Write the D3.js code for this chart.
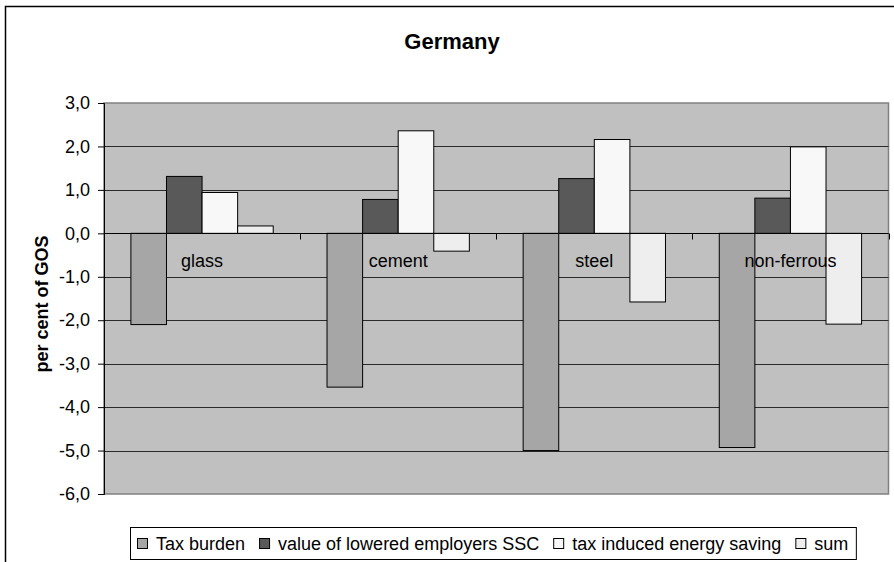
<!DOCTYPE html>
<html>
<head>
<meta charset="utf-8">
<script src="https://cdn.jsdelivr.net/npm/d3@7"></script>
<style>
  html, body { margin: 0; padding: 0; background: #ffffff; }
  svg { display: block; font-family: Arial, "Liberation Sans", sans-serif; }
</style>
</head>
<body>
<svg id="chart" width="894" height="562"></svg>
<script>
const title = "Germany";
const yAxisTitle = "per cent of GOS";
const categories = ["glass", "cement", "steel", "non-ferrous"];
const seriesNames = ["Tax burden", "value of lowered employers SSC", "tax induced energy saving", "sum"];
const seriesColors = ["#a6a6a6", "#595959", "#f8f8f8", "#eeeeee"];
const taxBurden = [-2.1, -3.54, -5.0, -4.93];
const loweredSSC = [1.31, 0.78, 1.26, 0.81];
const energySaving = [0.94, 2.36, 2.16, 1.99];
const sumValues = [0.17, -0.41, -1.58, -2.09];
const yTicks = [3, 2, 1, 0, -1, -2, -3, -4, -5, -6];

const seriesValues = [taxBurden, loweredSSC, energySaving, sumValues];

const svg = d3.select("#chart");
const plot = { left: 104, right: 888.5, top: 103, bottom: 494 };

// outer frame
svg.append("rect").attr("x", 5.5).attr("y", 6.5).attr("width", 910).attr("height", 600)
  .attr("fill", "#fff").attr("stroke", "#000").attr("stroke-width", 1.5);

// title
svg.append("text").attr("x", 452).attr("y", 49).attr("text-anchor", "middle")
  .attr("font-size", 22).attr("font-weight", "bold").text(title);

const y = d3.scaleLinear().domain([-6, 3]).range([plot.bottom, plot.top]);
const x0 = d3.scaleBand().domain(categories).range([plot.left, plot.right]).paddingInner(0).paddingOuter(0);
const x1 = d3.scaleBand().domain(seriesNames).range([0, x0.bandwidth()]).paddingInner(0).paddingOuter(0.756);
const color = d3.scaleOrdinal().domain(seriesNames).range(seriesColors);

// plot background
svg.append("rect").attr("x", plot.left).attr("y", plot.top)
  .attr("width", plot.right - plot.left).attr("height", plot.bottom - plot.top)
  .attr("fill", "#c0c0c0").attr("stroke", "#808080").attr("stroke-width", 1.5);

// gridlines
svg.append("g").selectAll("line").data(yTicks.filter(t => t > -6 && t < 3)).join("line")
  .attr("x1", plot.left).attr("x2", plot.right)
  .attr("y1", d => Math.round(y(d)) + 0.5).attr("y2", d => Math.round(y(d)) + 0.5)
  .attr("stroke", "#2a2a2a").attr("stroke-width", 1);

// bars
const groups = svg.append("g").selectAll("g").data(categories).join("g")
  .attr("transform", d => `translate(${x0(d)},0)`);
groups.selectAll("rect").data((c, ci) => seriesNames.map((s, si) => ({ s, v: seriesValues[si][ci] })))
  .join("rect")
  .attr("x", d => x1(d.s))
  .attr("width", x1.bandwidth())
  .attr("y", d => y(Math.max(0, d.v)))
  .attr("height", d => Math.abs(y(d.v) - y(0)))
  .attr("fill", d => color(d.s))
  .attr("stroke", "#000").attr("stroke-width", 1);

// y axis
const yAxis = d3.axisLeft(y).tickValues(yTicks).tickSize(6).tickPadding(8)
  .tickFormat(d => d3.format(".1f")(d).replace(".", ",").replace("−", "-"));
const yg = svg.append("g").attr("transform", `translate(${plot.left},0)`).call(yAxis);
yg.select(".domain").attr("stroke", "#000");
yg.selectAll(".tick line").attr("stroke", "#000");
yg.selectAll(".tick text").attr("font-size", 18).attr("fill", "#000")
  .attr("font-family", "Arial, 'Liberation Sans', sans-serif");

// category axis at zero
const zeroY = Math.round(y(0)) + 0.5;
svg.append("line").attr("x1", plot.left).attr("x2", plot.right)
  .attr("y1", zeroY).attr("y2", zeroY).attr("stroke", "#000");
const boundaries = categories.map(c => x0(c)).concat([x0(categories[categories.length - 1]) + x0.bandwidth()]);
svg.append("g").selectAll("line").data(boundaries.slice(1)).join("line")
  .attr("x1", d => Math.round(d) + 0.5).attr("x2", d => Math.round(d) + 0.5)
  .attr("y1", zeroY).attr("y2", zeroY + 6).attr("stroke", "#000");

// category labels
svg.append("g").selectAll("text").data(categories).join("text")
  .attr("x", d => x0(d) + x0.bandwidth() / 2)
  .attr("y", 267)
  .attr("text-anchor", "middle").attr("font-size", 18).text(d => d);

// y axis title
svg.append("text").attr("transform", "translate(48,304) rotate(-90)")
  .attr("text-anchor", "middle").attr("font-size", 18).attr("font-weight", "bold").text(yAxisTitle);

// legend
const lg = svg.append("g");
const box = lg.append("rect").attr("x", 130.5).attr("y", 527.5).attr("height", 32)
  .attr("fill", "#fff").attr("stroke", "#000").attr("stroke-width", 1);
let cur = 137;
seriesNames.forEach((s, i) => {
  lg.append("rect").attr("x", cur + 0.5).attr("y", 538.5).attr("width", 10).attr("height", 10)
    .attr("fill", seriesColors[i]).attr("stroke", "#000").attr("stroke-width", 1);
  const t = lg.append("text").attr("x", cur + 19).attr("y", 550).attr("font-size", 18).text(s);
  cur = cur + 19 + t.node().getComputedTextLength() + 14;
});
box.attr("width", cur - 14 + 8 - 130.5);
</script>
</body>
</html>
